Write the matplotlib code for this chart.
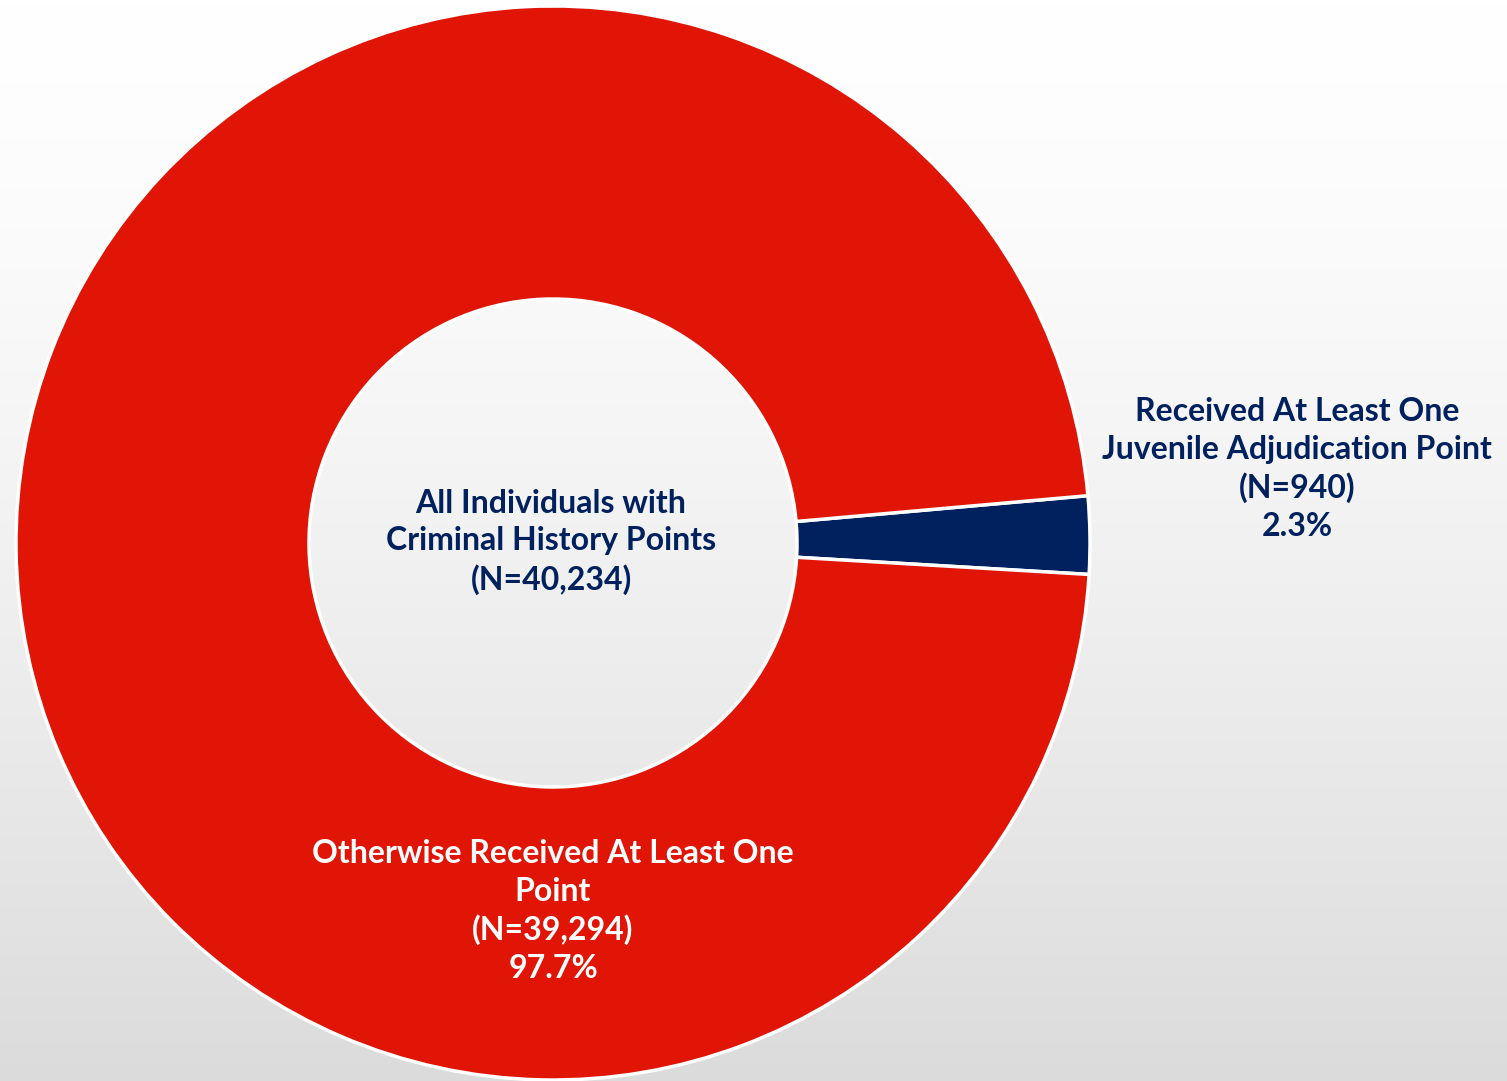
import matplotlib.pyplot as plt
import numpy as np

labels = ["Received At Least One\nJuvenile Adjudication Point",
          "Otherwise Received At Least One\nPoint"]
counts = [940, 39294]
colors = ["#00205e", "#e01506"]
center_text = "All Individuals with\nCriminal History Points\n(N=40,234)"

plt.rcParams['font.family'] = ['Lato', 'DejaVu Sans']

W, H = 1507, 1081
fig = plt.figure(figsize=(W / 100, H / 100), dpi=100)
ax = fig.add_axes([0, 0, 1, 1])

# background gradient, white at top to light grey at bottom
t = np.linspace(0, 1, 256) ** 1.4
grad = (1.0 - 0.14 * t).reshape(-1, 1)
bg = np.dstack([grad, grad, grad])
ax.imshow(bg, extent=[0, W, H, 0], aspect='auto', zorder=0)

total = sum(counts)
cx, cy, r_out, r_in = 553, 543, 537, 244
# small slice sits just above the horizontal (y axis is flipped here)
start = -counts[0] / total * 180 - 0.85
ax.pie(counts, colors=colors, center=(cx, cy), radius=r_out,
       startangle=start,
       wedgeprops=dict(width=r_out - r_in, edgecolor='white', linewidth=2.5),
       frame=True)
ax.set_xlim(0, W)
ax.set_ylim(H, 0)
ax.set_aspect('equal')
ax.axis('off')

fs = 23
pcts = [c / total * 100 for c in counts]
ax.text(1297, 469, f"{labels[0]}\n(N={counts[0]:,})\n{pcts[0]:.1f}%",
        ha='center', va='center', fontsize=fs, fontweight='bold',
        color=colors[0], linespacing=1.35, zorder=5)
ax.text(553, 911, f"{labels[1]}\n(N={counts[1]:,})\n{pcts[1]:.1f}%",
        ha='center', va='center', fontsize=fs, fontweight='bold',
        color='white', linespacing=1.35, zorder=5)
ax.text(551, 542, center_text, ha='center', va='center', fontsize=fs,
        fontweight='bold', color=colors[0], linespacing=1.35, zorder=5)

fig.savefig("out.png", dpi=100)
